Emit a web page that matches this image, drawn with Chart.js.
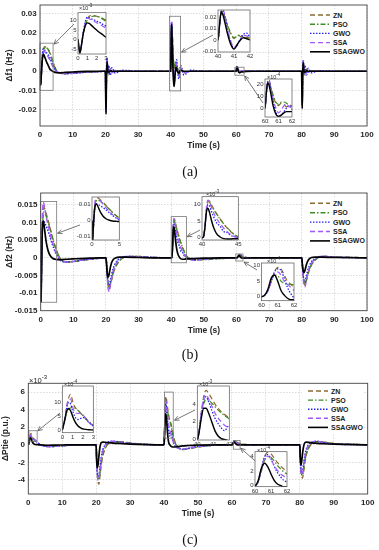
<!DOCTYPE html>
<html>
<head>
<meta charset="utf-8">
<script src="https://cdn.jsdelivr.net/npm/chart.js@4.4.1/dist/chart.umd.min.js"></script>
<style>
body { margin: 0; background: #fff; }
#page { position: relative; width: 379px; height: 550px; overflow: hidden; font-family: "Liberation Sans", Arial, sans-serif; }
canvas { position: absolute; }
.cap { position: absolute; font-family: "Liberation Serif", serif; font-size: 14px; transform: translate(-50%, -50%); color: #111; }
.exp { position: absolute; font-size: 5.5px; color: #333; white-space: nowrap; }
.exp sup { font-size: 4.5px; }
.mexp { font-size: 7.5px; color: #222; }
.mexp sup { font-size: 6px; }
svg.legend { position: absolute; left: 0; top: 0; }
</style>
</head>
<body>
<div id="page"></div>
<script>
// Series names
const seriesNames = ["ZN", "PSO", "GWO", "SSA", "SSAGWO"];

// Tick labels
const xTicksMain = [0, 10, 20, 30, 40, 50, 60, 70, 80, 90, 100];
const yTicksA = [-0.02, -0.01, 0, 0.01, 0.02, 0.03];
const yTicksB = [-0.015, -0.01, -0.005, 0, 0.005, 0.01, 0.015];
const yTicksC = [-4, -2, 0, 2, 4, 6];

// (a) delta f1 (Hz)
const timeA = [
  0, 0.1, 0.2, 0.3, 0.4, 0.6, 0.8, 1, 1.2, 1.5, 1.8, 2.1, 2.5, 3, 3.5, 4, 5, 6, 8, 10, 12, 15, 18,
  20, 20.1, 20.2, 20.3, 20.5, 20.7, 21, 21.5, 22, 23, 25, 30, 35,
  40, 40.1, 40.2, 40.3, 40.45, 40.6, 40.8, 41, 41.2, 41.4, 41.6, 41.8, 42, 42.5, 43, 44, 46, 50, 55,
  60, 60.1, 60.2, 60.3, 60.45, 60.6, 60.8, 61, 61.2, 61.4, 61.6, 61.8, 62, 63, 65, 70, 75,
  80, 80.1, 80.2, 80.3, 80.5, 80.7, 81, 81.5, 82, 83, 85, 90, 100
];
const znA = [
  0, -0.004, -0.007, -0.005, -0.002, 0.004, 0.008, 0.011, 0.0123, 0.0128, 0.0125, 0.0121, 0.0112, 0.0095, 0.007, 0.0042, 0.0002, -0.001, -0.0012, -0.001, -0.0007, -0.0004, -0.0002,
  0, -0.012, -0.02, -0.008, 0.006, 0.002, -0.002, 0.001, -0.0005, 0.0003, 0.0001, 0, 0,
  0, 0.012, 0.023, 0.0245, 0.019, 0.012, 0.005, 0.0012, 0.0042, 0.003, 0.0012, 0.0022, 0.0012, -0.002, 0.001, -0.0005, 0, 0, 0,
  0, 0.0012, 0.0021, 0.0022, 0.0016, 0.001, 0.0004, 0.0002, 0.0004, 0.0003, 0.0001, 0.0003, 0.0001, 0, 0, 0, 0,
  0, -0.01, -0.017, -0.007, 0.005, 0.002, -0.002, 0.001, -0.0005, 0.0003, 0.0001, 0, 0
];
const psoA = [
  0, -0.004, -0.007, -0.005, -0.002, 0.004, 0.0078, 0.0105, 0.0116, 0.0122, 0.0125, 0.0122, 0.0115, 0.01, 0.0075, 0.0048, 0.0005, -0.0008, -0.0012, -0.001, -0.0007, -0.0004, -0.0002,
  0, -0.012, -0.0195, -0.0075, 0.0058, 0.0022, -0.0018, 0.0011, -0.0004, 0.0003, 0.0001, 0, 0,
  0, 0.012, 0.023, 0.025, 0.02, 0.013, 0.006, 0.002, 0.003, 0.0045, 0.002, 0.0015, 0.002, -0.0015, 0.001, -0.0005, 0, 0, 0,
  0, 0.0012, 0.0021, 0.0022, 0.0017, 0.0011, 0.0005, 0.0003, 0.0005, 0.0005, 0.0004, 0.0002, 0.0001, 0, 0, 0, 0,
  0, -0.01, -0.0165, -0.0068, 0.0048, 0.0021, -0.0018, 0.001, -0.0004, 0.0003, 0.0001, 0, 0
];
const gwoA = [
  0, -0.004, -0.007, -0.005, -0.002, 0.005, 0.0098, 0.0118, 0.0115, 0.0108, 0.0102, 0.0095, 0.0085, 0.007, 0.005, 0.003, 0, -0.001, -0.0013, -0.0011, -0.0008, -0.0004, -0.0002,
  0, -0.012, -0.021, -0.006, 0.007, -0.001, 0.003, -0.002, 0.0018, -0.001, 0.0005, 0, 0,
  0, 0.013, 0.025, 0.0255, 0.019, 0.008, -0.002, -0.0075, -0.004, 0.001, 0.005, 0.006, 0.002, -0.004, 0.003, -0.002, 0.0005, 0, 0,
  0, 0.0012, 0.0022, 0.0023, 0.0015, 0.0006, -0.0003, -0.0007, -0.0006, -0.0003, 0, 0.0002, -0.0001, 0, 0, 0, 0,
  0, -0.01, -0.018, -0.005, 0.006, -0.001, 0.003, -0.002, 0.0015, -0.0008, 0.0003, 0, 0
];
const ssaA = [
  0, -0.004, -0.007, -0.005, -0.002, 0.0045, 0.0093, 0.0113, 0.011, 0.0102, 0.0094, 0.0086, 0.0075, 0.006, 0.004, 0.0022, -0.0003, -0.001, -0.0012, -0.001, -0.0007, -0.0004, -0.0002,
  0, -0.012, -0.0205, -0.007, 0.0065, 0.001, -0.0015, 0.0015, -0.0008, 0.0004, 0.0001, 0, 0,
  0, 0.013, 0.026, 0.0265, 0.02, 0.009, -0.001, -0.0065, -0.005, 0, 0.004, 0.0035, 0.001, -0.003, 0.002, -0.001, 0, 0, 0,
  0, 0.0012, 0.0022, 0.0023, 0.0016, 0.0008, 0, -0.0004, -0.0002, 0.0002, 0.0003, 0.0001, 0.0002, 0, 0, 0, 0,
  0, -0.01, -0.0175, -0.006, 0.0055, 0.001, -0.0015, 0.0012, -0.0006, 0.0003, 0.0001, 0, 0
];
const ssagwoA = [
  0, -0.0042, -0.0072, -0.0052, -0.002, 0.004, 0.0075, 0.0088, 0.0085, 0.0072, 0.0058, 0.0045, 0.0031, 0.0012, 0.0004, -0.0002, -0.0008, -0.0008, -0.0006, -0.0004, -0.0002, -0.0001, 0,
  0, -0.013, -0.0225, -0.005, 0.005, 0.0005, -0.0005, 0.0002, 0, 0, 0, 0, 0,
  0, 0.014, 0.0245, 0.022, 0.014, 0.005, -0.004, -0.008, -0.004, 0, 0.002, 0.001, 0, -0.001, 0.0005, 0, 0, 0, 0,
  0, 0.0013, 0.0021, 0.0019, 0.0011, 0.0002, -0.0005, -0.0007, -0.0006, -0.0004, -0.0003, -0.0003, -0.0003, -0.0001, 0, 0, 0,
  0, -0.011, -0.0195, -0.004, 0.0045, 0.0005, -0.0005, 0.0002, 0, 0, 0, 0, 0
];

// (b) delta f2 (Hz)
const timeB = [
  0, 0.05, 0.1, 0.2, 0.3, 0.45, 0.6, 0.8, 1, 1.3, 1.6, 2, 2.5, 3, 3.5, 4, 4.5, 5, 6, 8, 10, 12, 15, 18,
  20, 20.2, 20.4, 20.7, 21, 21.4, 21.8, 22.3, 23, 24, 26, 30, 35,
  40, 40.2, 40.4, 40.6, 40.8, 41, 41.3, 41.6, 42, 42.5, 43, 43.5, 44, 44.5, 45, 47, 50, 55,
  60, 60.2, 60.4, 60.6, 60.8, 61, 61.2, 61.4, 61.6, 61.8, 62, 63, 65, 70, 75,
  80, 80.2, 80.4, 80.7, 81, 81.4, 81.8, 82.3, 83, 84, 86, 90, 100
];
const znB = [
  0, -0.008, -0.0125, -0.008, -0.002, 0.006, 0.011, 0.0138, 0.0143, 0.0138, 0.0128, 0.0115, 0.0098, 0.008, 0.0062, 0.0045, 0.003, 0.0017, -0.0003, -0.0012, -0.0011, -0.0008, -0.0004, -0.0001,
  0, -0.002, -0.005, -0.008, -0.009, -0.0075, -0.006, -0.0042, -0.0025, -0.001, 0.0003, 0.0004, 0.0001,
  0, 0.0002, 0.003, 0.008, 0.0105, 0.011, 0.0098, 0.0086, 0.0072, 0.0056, 0.0041, 0.0028, 0.0017, 0.0008, 0.0002, -0.0006, -0.0005, -0.0002,
  0, 0.00005, 0.0002, 0.0005, 0.0008, 0.00095, 0.0009, 0.0007, 0.0005, 0.0004, 0.0003, 0.0001, 0, 0, 0,
  0, -0.002, -0.0045, -0.007, -0.0078, -0.0065, -0.005, -0.0035, -0.002, -0.0007, 0.0004, 0.0003, 0
];
const psoB = [
  0, -0.008, -0.0125, -0.008, -0.002, 0.0055, 0.01, 0.0125, 0.013, 0.0127, 0.012, 0.011, 0.0095, 0.0078, 0.006, 0.0044, 0.003, 0.0018, -0.0002, -0.0012, -0.0011, -0.0008, -0.0004, -0.0001,
  0, -0.002, -0.005, -0.0075, -0.0085, -0.0072, -0.0058, -0.004, -0.0024, -0.001, 0.0003, 0.0004, 0.0001,
  0, 0.0002, 0.003, 0.0078, 0.0102, 0.0105, 0.0095, 0.0084, 0.0071, 0.0055, 0.0041, 0.0029, 0.0018, 0.0009, 0.0003, -0.0005, -0.0005, -0.0002,
  0, 0.00005, 0.0002, 0.0005, 0.0007, 0.00068, 0.0005, 0.00043, 0.0004, 0.0004, 0.00038, 0.0001, 0, 0, 0,
  0, -0.002, -0.0045, -0.0068, -0.0075, -0.0063, -0.0049, -0.0034, -0.002, -0.0007, 0.0004, 0.0003, 0
];
const gwoB = [
  0, -0.008, -0.0125, -0.008, -0.002, 0.005, 0.0095, 0.0105, 0.0103, 0.0098, 0.0092, 0.0083, 0.007, 0.0055, 0.004, 0.0027, 0.0015, 0.0006, -0.0007, -0.0012, -0.001, -0.0007, -0.0004, -0.0001,
  0, -0.002, -0.005, -0.0075, -0.0078, -0.0062, -0.0045, -0.0028, -0.0014, -0.0003, 0.0004, 0.0003, 0.0001,
  0, 0.0002, 0.003, 0.0078, 0.0098, 0.0095, 0.0078, 0.0062, 0.0045, 0.0034, 0.0018, 0.0015, 0.0006, 0.0004, 0, -0.0006, -0.0004, -0.0001,
  0, 0.00005, 0.0002, 0.0005, 0.0008, 0.0009, 0.00085, 0.0006, 0.0003, 0.0001, -0.00003, -0.0001, 0, 0, 0,
  0, -0.002, -0.0045, -0.0065, -0.0068, -0.0053, -0.0038, -0.0024, -0.0011, -0.0002, 0.0004, 0.0002, 0
];
const ssaB = [
  0, -0.008, -0.0125, -0.007, 0, 0.008, 0.0135, 0.0158, 0.0152, 0.0138, 0.0122, 0.0103, 0.0083, 0.0064, 0.0047, 0.0032, 0.0019, 0.0009, -0.0006, -0.0012, -0.001, -0.0007, -0.0004, -0.0001,
  0, -0.002, -0.0055, -0.009, -0.0095, -0.0075, -0.0055, -0.0035, -0.0018, -0.0005, 0.0004, 0.0003, 0.0001,
  0, 0.0002, 0.0035, 0.0088, 0.0112, 0.0108, 0.009, 0.0074, 0.0057, 0.0042, 0.0028, 0.0017, 0.0009, 0.0003, -0.0001, -0.0006, -0.0004, -0.0001,
  0, 0.00005, 0.0002, 0.0005, 0.00075, 0.0008, 0.0007, 0.0005, 0.0004, 0.0003, 0.0002, 0.00005, 0, 0, 0,
  0, -0.002, -0.005, -0.008, -0.0082, -0.0065, -0.0047, -0.003, -0.0015, -0.0004, 0.0004, 0.0002, 0
];
const ssagwoB = [
  0, -0.008, -0.0125, -0.007, -0.001, 0.0065, 0.0098, 0.0105, 0.0095, 0.0072, 0.005, 0.003, 0.0014, 0.0005, 0, -0.0003, -0.0004, -0.0005, -0.0005, -0.0004, -0.0003, -0.0002, -0.0001, 0,
  0, -0.002, -0.0045, -0.0055, -0.0045, -0.0025, -0.0012, -0.0004, 0, 0.0002, 0.0002, 0.0001, 0,
  0, 0.0002, 0.003, 0.0075, 0.0088, 0.0078, 0.0052, 0.003, 0.0012, 0.0002, -0.0003, -0.0004, -0.0004, -0.0003, -0.0003, -0.0002, -0.0001, 0,
  0, 0.00005, 0.00025, 0.0006, 0.0007, 0.0005, 0.0002, 0.00005, -0.00005, -0.0001, -0.0001, -0.00005, 0, 0, 0,
  0, -0.002, -0.0035, -0.0042, -0.0035, -0.002, -0.001, -0.0003, 0.0001, 0.0002, 0.0002, 0.0001, 0
];

// (c) delta Ptie (x10^-3 p.u.)
const timeC = [
  0, 0.2, 0.4, 0.6, 0.8, 1, 1.2, 1.5, 1.8, 2.1, 2.5, 3, 4, 6, 8, 10, 14, 18,
  20, 20.1, 20.3, 20.5, 20.8, 21.1, 21.5, 22, 22.7, 23.5, 25, 27, 30, 35,
  40, 40.1, 40.25, 40.4, 40.55, 40.7, 40.9, 41.1, 41.3, 41.5, 41.7, 42, 42.5, 43, 44, 45.5, 47, 50, 55,
  60, 60.2, 60.4, 60.6, 60.8, 61, 61.2, 61.4, 61.6, 61.8, 62, 63, 65, 70, 75,
  80, 80.1, 80.3, 80.5, 80.8, 81.1, 81.5, 82, 82.7, 83.5, 85, 87, 90, 100
];
const znC = [
  0, 0.3, 0.8, 1.15, 1.3, 1.05, 0.85, 0.72, 0.6, 0.48, 0.32, 0.15, -0.05, -0.2, -0.18, -0.1, -0.03, 0,
  0, -1.2, -3.0, -4.0, -4.5, -3.6, -2.3, -1.2, -0.4, 0.1, 0.35, 0.35, 0.2, 0.05,
  0, 0.8, 3.0, 4.8, 5.5, 5.2, 4.6, 4.0, 3.5, 3.1, 2.8, 2.4, 1.5, 0.6, -0.2, -0.5, -0.45, -0.25, -0.05,
  0, 0.05, 0.22, 0.4, 0.46, 0.44, 0.38, 0.32, 0.27, 0.23, 0.2, 0.08, 0.02, 0, 0,
  0, -1.0, -2.6, -3.4, -3.8, -3.1, -2.0, -1.0, -0.3, 0.1, 0.35, 0.3, 0.15, 0
];
const psoC = [
  0, 0.25, 0.6, 0.75, 0.8, 0.82, 0.8, 0.72, 0.6, 0.48, 0.33, 0.17, -0.03, -0.2, -0.18, -0.1, -0.03, 0,
  0, -1.2, -3.0, -3.8, -4.0, -3.2, -2.0, -1.0, -0.3, 0.15, 0.35, 0.35, 0.2, 0.05,
  0, 0.7, 2.6, 4.0, 4.5, 4.4, 4.1, 3.7, 3.3, 3.0, 2.7, 2.3, 1.4, 0.5, -0.25, -0.55, -0.45, -0.25, -0.05,
  0, 0.05, 0.2, 0.35, 0.4, 0.39, 0.34, 0.28, 0.23, 0.19, 0.16, 0.07, 0.02, 0, 0,
  0, -1.0, -2.6, -3.3, -3.5, -2.8, -1.8, -0.9, -0.25, 0.15, 0.35, 0.3, 0.15, 0
];
const gwoC = [
  0, 0.3, 0.75, 1.0, 0.95, 0.7, 0.5, 0.38, 0.42, 0.45, 0.3, 0.15, -0.05, -0.2, -0.17, -0.1, -0.03, 0,
  0, -1.2, -3.0, -3.7, -3.6, -2.6, -1.4, -0.5, 0.0, 0.3, 0.4, 0.3, 0.15, 0.03,
  0, 0.8, 2.9, 4.4, 4.8, 4.3, 3.3, 2.4, 1.8, 1.3, 1.0, 1.6, 0.6, 0.0, -0.35, -0.5, -0.4, -0.2, -0.05,
  0, 0.06, 0.24, 0.4, 0.43, 0.37, 0.27, 0.18, 0.12, 0.07, 0.05, 0.02, 0, 0, 0,
  0, -1.0, -2.6, -3.2, -3.1, -2.2, -1.2, -0.4, 0.05, 0.3, 0.4, 0.25, 0.1, 0
];
const ssaC = [
  0, 0.3, 0.8, 1.1, 1.12, 0.85, 0.65, 0.6, 0.62, 0.5, 0.3, 0.12, -0.08, -0.2, -0.16, -0.1, -0.03, 0,
  0, -1.2, -3.1, -4.0, -4.0, -2.9, -1.6, -0.6, 0.0, 0.3, 0.4, 0.3, 0.15, 0.03,
  0, 0.8, 3.0, 4.6, 5.0, 4.6, 3.8, 3.0, 2.4, 2.0, 1.6, 1.3, 0.6, 0.1, -0.3, -0.5, -0.4, -0.2, -0.05,
  0, 0.05, 0.22, 0.38, 0.41, 0.36, 0.28, 0.21, 0.16, 0.13, 0.11, 0.04, 0.01, 0, 0,
  0, -1.0, -2.7, -3.4, -3.3, -2.4, -1.3, -0.5, 0.0, 0.3, 0.4, 0.25, 0.1, 0
];
const ssagwoC = [
  0, 0.3, 0.65, 0.78, 0.7, 0.5, 0.32, 0.15, 0.07, 0.03, 0.01, 0, -0.02, -0.05, -0.03, -0.02, 0, 0,
  0, -1.5, -2.6, -2.4, -1.3, -0.3, 0.25, 0.3, 0.28, 0.25, 0.2, 0.15, 0.08, 0.02,
  0, 0.7, 2.4, 3.5, 3.5, 3.0, 2.0, 1.0, 0.4, 0.1, 0.0, -0.15, -0.25, -0.25, -0.2, -0.12, -0.08, -0.03, 0,
  0, 0.07, 0.24, 0.31, 0.26, 0.16, 0.07, 0.02, 0, -0.02, -0.02, -0.01, 0, 0, 0,
  0, -1.3, -2.3, -2.0, -1.0, -0.2, 0.25, 0.3, 0.27, 0.22, 0.17, 0.12, 0.07, 0
];

// Zoom boxes drawn on the main plots [t1, t2, y1, y2]
const zoomBoxesA = [[0, 4, -0.01, 0.0147], [39.6, 43, -0.0103, 0.0288], [59.6, 62.4, -0.0021, 0.0021]];
const zoomBoxesB = [[0, 4.9, -0.0126, 0.016], [40, 44.7, -0.0014, 0.0117], [59.8, 62, -0.0009, 0.0011]];
const zoomBoxesC = [[0.2, 2.6, 0.4, 1.6], [40.1, 42.7, 0.75, 6.0], [60.4, 62.4, -0.5, 0.5]];

// Styles
const FONT = '"Liberation Sans", Arial, sans-serif';
const lineColors = ["#8c6a32", "#3f8f23", "#2323f0", "#a259f7", "#000000"];
const lineDashes = [[5, 3], [5, 2, 1.5, 2], [1.5, 1.5], [5, 3], []];
const lineWidths = [1.4, 1.4, 1.5, 1.4, 1.7];

const page = document.getElementById("page");

function decorPlugin(cfg, ox, oy) {
  return {
    id: "decor",
    beforeDraw(chart) {
      const a = chart.chartArea, c = chart.ctx;
      c.save();
      c.fillStyle = "#fff";
      c.fillRect(a.left, a.top, a.right - a.left, a.bottom - a.top);
      c.restore();
    },
    afterDraw(chart) {
      const a = chart.chartArea, c = chart.ctx;
      const xs = chart.scales.x, ys = chart.scales.y;
      c.save();
      c.strokeStyle = "#777";
      c.lineWidth = 0.8;
      (cfg.boxes || []).forEach(b => {
        const x1 = xs.getPixelForValue(b[0]), x2 = xs.getPixelForValue(b[1]);
        const y1 = ys.getPixelForValue(b[2]), y2 = ys.getPixelForValue(b[3]);
        c.strokeRect(x1, y2, x2 - x1, y1 - y2);
      });
      c.strokeStyle = "#555";
      (cfg.arrows || []).forEach(ar => {
        const tx = ar[0] - ox, ty = ar[1] - oy;
        const hx = xs.getPixelForValue(ar[2]), hy = ys.getPixelForValue(ar[3]);
        const ang = Math.atan2(hy - ty, hx - tx), L = 5;
        c.beginPath();
        c.moveTo(tx, ty); c.lineTo(hx, hy);
        c.moveTo(hx - L * Math.cos(ang - 0.45), hy - L * Math.sin(ang - 0.45));
        c.lineTo(hx, hy);
        c.lineTo(hx - L * Math.cos(ang + 0.45), hy - L * Math.sin(ang + 0.45));
        c.stroke();
      });
      c.strokeStyle = cfg.small ? "#555" : "#444";
      c.lineWidth = cfg.small ? 0.7 : 0.9;
      c.strokeRect(a.left, a.top, a.right - a.left, a.bottom - a.top);
      c.restore();
    }
  };
}

function makePlot(rect, area, t, ys, xr, yr, xt, yt, yUnit, cfg) {
  const cv = document.createElement("canvas");
  cv.width = rect[2];
  cv.height = rect[3];
  cv.style.left = rect[0] + "px";
  cv.style.top = rect[1] + "px";
  page.appendChild(cv);
  const small = !!cfg.small;
  const padL = cfg.padL || 0;
  const yW = area[0] - rect[0] - padL;
  const xH = rect[1] + rect[3] - area[3];
  const xLabels = xt.map(String);
  const yLabels = yt.map(String);
  const tickFont = small ? { family: FONT, size: 6 } : { family: FONT, size: 8, weight: "bold" };
  const titleFont = { family: FONT, size: 8.5, weight: "bold" };
  const gridOpt = small ? { display: false, drawTicks: false } : { color: "#d2d2d2", lineWidth: 0.8, drawTicks: false };
  const lw = small ? 0.85 : 1;

  new Chart(cv, {
    type: "line",
    data: {
      datasets: ys.map((s, i) => ({
        label: seriesNames[i],
        data: t.map((x, k) => ({ x: x, y: s[k] })),
        borderColor: lineColors[i],
        borderDash: lineDashes[i],
        borderWidth: lineWidths[i] * lw,
        pointRadius: 0,
        fill: false,
        cubicInterpolationMode: "monotone",
        order: 4 - i
      }))
    },
    options: {
      responsive: false,
      animation: false,
      events: [],
      layout: { padding: { left: padL, top: area[1] - rect[1], right: rect[0] + rect[2] - area[2], bottom: 0 } },
      plugins: { legend: { display: false }, tooltip: { enabled: false } },
      scales: {
        x: {
          type: "linear",
          min: xr[0],
          max: xr[1],
          afterBuildTicks: s => { s.ticks = xt.map(v => ({ value: v })); },
          afterFit: s => { s.height = xH; s.paddingLeft = 0; s.paddingRight = 0; },
          ticks: {
            autoSkip: false, maxRotation: 0, font: tickFont, color: small ? "#333" : "#262626",
            padding: small ? 1 : 4.2,
            callback: (v, i) => xLabels[i]
          },
          grid: gridOpt,
          border: { display: false, dash: [1.5, 1.5] },
          title: cfg.xTitle ? { display: true, text: cfg.xTitle, font: titleFont, color: "#262626", padding: 0 } : { display: false }
        },
        y: {
          type: "linear",
          min: yr[0],
          max: yr[1],
          afterBuildTicks: s => { s.ticks = yt.map(v => ({ value: v * yUnit })); },
          afterFit: s => { s.width = yW; s.paddingTop = 0; s.paddingBottom = 0; },
          ticks: {
            autoSkip: false, font: tickFont, color: small ? "#333" : "#262626",
            padding: small ? 1.5 : 3.3,
            callback: (v, i) => yLabels[i]
          },
          grid: gridOpt,
          border: { display: false, dash: [1.5, 1.5] },
          title: cfg.yTitle ? { display: true, text: cfg.yTitle, font: titleFont, color: "#262626", padding: 0 } : { display: false }
        }
      }
    },
    plugins: [decorPlugin(cfg, rect[0], rect[1])]
  });
}

function makeInset(area, t, ys, xr, yr, xt, yt, yUnit) {
  const left = Math.floor(area[0] - 20), top = Math.floor(area[1] - 7);
  const rect = [left, top, Math.ceil(area[2] + 4 - left), Math.ceil(area[3] + 10 - top)];
  makePlot(rect, area, t, ys, xr, yr, xt, yt, yUnit, { small: true });
}

function addExp(x, y, p, cls) {
  const d = document.createElement("div");
  d.className = "exp" + (cls ? " " + cls : "");
  d.style.left = x + "px";
  d.style.top = y + "px";
  d.innerHTML = "×10<sup>" + p + "</sup>";
  page.appendChild(d);
}

function addCaption(x, y, text) {
  const d = document.createElement("div");
  d.className = "cap";
  d.style.left = x + "px";
  d.style.top = y + "px";
  d.textContent = text;
  page.appendChild(d);
}

function addLegend(x0, y0, gap) {
  const ns = "http://www.w3.org/2000/svg";
  const svg = document.createElementNS(ns, "svg");
  svg.setAttribute("class", "legend");
  svg.setAttribute("width", "379");
  svg.setAttribute("height", "550");
  const bg = document.createElementNS(ns, "rect");
  bg.setAttribute("x", x0 - 6); bg.setAttribute("y", y0 - 6);
  bg.setAttribute("width", 62); bg.setAttribute("height", gap * 4 + 12);
  bg.setAttribute("fill", "#fff");
  svg.appendChild(bg);
  seriesNames.forEach((name, i) => {
    const y = y0 + i * gap;
    const ln = document.createElementNS(ns, "line");
    ln.setAttribute("x1", x0); ln.setAttribute("x2", x0 + 20);
    ln.setAttribute("y1", y); ln.setAttribute("y2", y);
    ln.setAttribute("stroke", lineColors[i]);
    ln.setAttribute("stroke-width", i === 4 ? 1.6 : 1.4);
    if (lineDashes[i].length) ln.setAttribute("stroke-dasharray", lineDashes[i].join(","));
    svg.appendChild(ln);
    const tx = document.createElementNS(ns, "text");
    tx.setAttribute("x", x0 + 23); tx.setAttribute("y", y + 2.5);
    tx.setAttribute("font-family", "Liberation Sans, Arial, sans-serif");
    tx.setAttribute("font-size", "7");
    tx.setAttribute("font-weight", "bold");
    tx.setAttribute("fill", "#222");
    tx.textContent = name;
    svg.appendChild(tx);
  });
  page.appendChild(svg);
}

const seriesA = [znA, psoA, gwoA, ssaA, ssagwoA];
const seriesB = [znB, psoB, gwoB, ssaB, ssagwoB];
const seriesC = [znC, psoC, gwoC, ssaC, ssagwoC];

// (a)
makePlot([0, 0, 379, 151], [40, 5, 367, 126], timeA, seriesA, [0, 100], [-0.0287, 0.0347], xTicksMain, yTicksA, 1,
  { xTitle: "Time (s)", yTitle: "Δf1 (Hz)", padL: 4.9, boxes: zoomBoxesA,
    arrows: [[74, 24, 4.3, 0.0142], [213, 35, 43.3, 0.01], [263, 103, 62.6, -0.0025]] });
makeInset([78, 12.7, 106, 54], timeA, seriesA, [0, 3], [-0.0077, 0.0142], [0, 1, 2, 3], [-5, 0, 5, 10], 1e-3);
makeInset([218, 10, 250, 52], timeA, seriesA, [40, 42], [-0.0105, 0.026], [40, 41, 42], [-0.01, 0, 0.01, 0.02], 1);
makeInset([265, 79, 292, 117], timeA, seriesA, [60, 62], [-0.00075, 0.00242], [60, 61, 62], [0, 10, 20], 1e-4);
addExp(79, 3, "-3");
addExp(267, 72, "-4");
addLegend(310, 15, 9.2);
addCaption(190, 172, "(a)");

// (b)
makePlot([0, 185, 379, 151], [40.7, 193, 367, 310.7], timeB, seriesB, [0, 100], [-0.015, 0.0184], xTicksMain, yTicksB, 1,
  { xTitle: "Time (s)", yTitle: "Δf2 (Hz)", padL: 4.9, boxes: zoomBoxesB,
    arrows: [[80, 225, 5.2, 0.007], [200, 230, 44.9, 0.006], [257, 270, 62.3, -0.0012]] });
makeInset([92, 197, 119.3, 240], timeB, seriesB, [0, 5], [-0.012, 0.0148], [0, 5], [-0.01, 0, 0.01], 1);
makeInset([202, 196.7, 238.3, 240], timeB, seriesB, [40, 45], [-0.0007, 0.0122], [40, 45], [0, 5, 10], 1e-3);
makeInset([261.5, 263, 294, 300.7], timeB, seriesB, [60, 62], [-0.00013, 0.00109], [60, 61, 62], [0, 5, 10], 1e-4);
addExp(206, 189, "-3");
addExp(267, 256, "-4");
addLegend(310, 203.3, 9.4);
addCaption(190, 355, "(b)");

// (c)
makePlot([0, 375, 379, 144], [28.3, 383.3, 367.7, 494], timeC, seriesC, [0, 100], [-5.6, 7.0], xTicksMain, yTicksC, 1,
  { xTitle: "Time (s)", yTitle: "ΔPtie (p.u.)", padL: 0.9, boxes: zoomBoxesC,
    arrows: [[60, 413, 2.8, 1.6], [195, 410, 43.1, 2.8], [261.7, 466.7, 62.6, -0.4]] });
makeInset([62.3, 386, 93.3, 432.7], timeC, seriesC, [0, 3], [-0.1, 1.6], [0, 1, 2, 3], [0, 5, 10], 0.1);
makeInset([197.3, 386, 229.3, 440], timeC, seriesC, [40, 42], [-0.05, 6.0], [40, 41, 42], [0, 2, 4], 1);
makeInset([255, 451.7, 287, 486.7], timeC, seriesC, [60, 62], [-0.017, 0.47], [60, 61, 62], [0, 2, 4], 0.1);
addExp(64, 379, "-4");
addExp(199, 379, "-3");
addExp(257, 445, "-4");
addExp(29, 374, "-3", "mexp");
addLegend(308, 391, 9.1);
addCaption(190, 540, "(c)");
</script>
</body>
</html>
